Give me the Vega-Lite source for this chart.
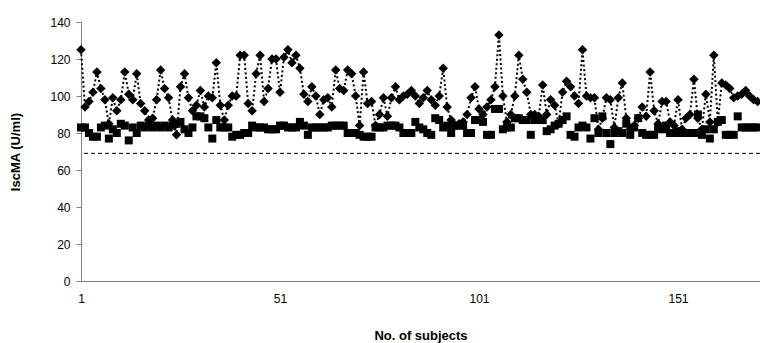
{
  "$schema": "https://vega.github.io/schema/vega-lite/v6.json",
  "width": 679,
  "height": 259,
  "autosize": "none",
  "padding": {"left": 81, "top": 22, "right": 0, "bottom": 62},
  "background": "white",
  "config": {
    "view": {"stroke": null},
    "font": "Liberation Sans",
    "axis": {"labelFont": "Liberation Sans", "titleFont": "Liberation Sans", "labelColor": "black", "titleColor": "black", "grid": false, "labelOverlap": false},
    "axisX": {"titleFontSize": 13, "titleFontWeight": "bold", "titlePadding": 25, "labelFontSize": 12, "labelPadding": 12, "ticks": false, "domainColor": "#808080", "labelFlush": false},
    "axisY": {"titleFontSize": 13, "titleFontWeight": "bold", "titlePadding": 27, "labelFontSize": 12, "labelPadding": 6, "tickSize": 5, "tickColor": "#808080", "domainColor": "#808080"}
  },
  "datasets": {
    "d": [
      {"subject":1,"diamond":125,"square":83},{"subject":2,"diamond":94,"square":83},{"subject":3,"diamond":97,"square":80},{"subject":4,"diamond":102,"square":78},{"subject":5,"diamond":113,"square":78},
      {"subject":6,"diamond":104,"square":83},{"subject":7,"diamond":98,"square":84},{"subject":8,"diamond":85,"square":77},{"subject":9,"diamond":99,"square":82},{"subject":10,"diamond":92,"square":80},
      {"subject":11,"diamond":98,"square":85},{"subject":12,"diamond":113,"square":84},{"subject":13,"diamond":101,"square":76},{"subject":14,"diamond":98,"square":83},{"subject":15,"diamond":112,"square":80},
      {"subject":16,"diamond":96,"square":84},{"subject":17,"diamond":92,"square":83},{"subject":18,"diamond":87,"square":84},{"subject":19,"diamond":88,"square":83},{"subject":20,"diamond":98,"square":84},
      {"subject":21,"diamond":114,"square":83},{"subject":22,"diamond":104,"square":84},{"subject":23,"diamond":99,"square":83},{"subject":24,"diamond":87,"square":84},{"subject":25,"diamond":79,"square":85},
      {"subject":26,"diamond":105,"square":86},{"subject":27,"diamond":112,"square":82},{"subject":28,"diamond":99,"square":80},{"subject":29,"diamond":92,"square":83},{"subject":30,"diamond":95,"square":89},
      {"subject":31,"diamond":103,"square":89},{"subject":32,"diamond":94,"square":88},{"subject":33,"diamond":100,"square":83},{"subject":34,"diamond":99,"square":77},{"subject":35,"diamond":118,"square":87},
      {"subject":36,"diamond":95,"square":83},{"subject":37,"diamond":87,"square":83},{"subject":38,"diamond":95,"square":83},{"subject":39,"diamond":100,"square":78},{"subject":40,"diamond":100,"square":79},
      {"subject":41,"diamond":122,"square":79},{"subject":42,"diamond":122,"square":80},{"subject":43,"diamond":96,"square":80},{"subject":44,"diamond":92,"square":84},{"subject":45,"diamond":112,"square":83},
      {"subject":46,"diamond":122,"square":83},{"subject":47,"diamond":97,"square":83},{"subject":48,"diamond":104,"square":82},{"subject":49,"diamond":120,"square":82},{"subject":50,"diamond":120,"square":82},
      {"subject":51,"diamond":102,"square":84},{"subject":52,"diamond":121,"square":84},{"subject":53,"diamond":125,"square":83},{"subject":54,"diamond":118,"square":83},{"subject":55,"diamond":122,"square":83},
      {"subject":56,"diamond":115,"square":86},{"subject":57,"diamond":101,"square":84},{"subject":58,"diamond":97,"square":79},{"subject":59,"diamond":105,"square":83},{"subject":60,"diamond":100,"square":83},
      {"subject":61,"diamond":90,"square":83},{"subject":62,"diamond":98,"square":83},{"subject":63,"diamond":99,"square":83},{"subject":64,"diamond":94,"square":84},{"subject":65,"diamond":114,"square":84},
      {"subject":66,"diamond":104,"square":84},{"subject":67,"diamond":103,"square":84},{"subject":68,"diamond":114,"square":80},{"subject":69,"diamond":112,"square":80},{"subject":70,"diamond":100,"square":80},
      {"subject":71,"diamond":84,"square":79},{"subject":72,"diamond":113,"square":78},{"subject":73,"diamond":96,"square":78},{"subject":74,"diamond":97,"square":78},{"subject":75,"diamond":84,"square":83},
      {"subject":76,"diamond":90,"square":83},{"subject":77,"diamond":99,"square":83},{"subject":78,"diamond":89,"square":84},{"subject":79,"diamond":99,"square":84},{"subject":80,"diamond":105,"square":84},
      {"subject":81,"diamond":98,"square":83},{"subject":82,"diamond":100,"square":80},{"subject":83,"diamond":101,"square":80},{"subject":84,"diamond":103,"square":80},{"subject":85,"diamond":100,"square":86},
      {"subject":86,"diamond":96,"square":83},{"subject":87,"diamond":99,"square":82},{"subject":88,"diamond":103,"square":80},{"subject":89,"diamond":98,"square":79},{"subject":90,"diamond":95,"square":88},
      {"subject":91,"diamond":100,"square":87},{"subject":92,"diamond":115,"square":83},{"subject":93,"diamond":94,"square":84},{"subject":94,"diamond":87,"square":80},{"subject":95,"diamond":84,"square":84},
      {"subject":96,"diamond":85,"square":84},{"subject":97,"diamond":86,"square":84},{"subject":98,"diamond":90,"square":80},{"subject":99,"diamond":99,"square":80},{"subject":100,"diamond":105,"square":87},
      {"subject":101,"diamond":93,"square":87},{"subject":102,"diamond":90,"square":86},{"subject":103,"diamond":94,"square":79},{"subject":104,"diamond":98,"square":79},{"subject":105,"diamond":105,"square":93},
      {"subject":106,"diamond":133,"square":93},{"subject":107,"diamond":100,"square":82},{"subject":108,"diamond":86,"square":83},{"subject":109,"diamond":90,"square":83},{"subject":110,"diamond":100,"square":88},
      {"subject":111,"diamond":122,"square":88},{"subject":112,"diamond":109,"square":87},{"subject":113,"diamond":102,"square":87},{"subject":114,"diamond":90,"square":79},{"subject":115,"diamond":90,"square":87},
      {"subject":116,"diamond":89,"square":87},{"subject":117,"diamond":106,"square":87},{"subject":118,"diamond":90,"square":81},{"subject":119,"diamond":98,"square":82},{"subject":120,"diamond":95,"square":84},
      {"subject":121,"diamond":85,"square":85},{"subject":122,"diamond":102,"square":87},{"subject":123,"diamond":108,"square":89},{"subject":124,"diamond":105,"square":79},{"subject":125,"diamond":100,"square":78},
      {"subject":126,"diamond":96,"square":83},{"subject":127,"diamond":125,"square":84},{"subject":128,"diamond":100,"square":83},{"subject":129,"diamond":99,"square":77},{"subject":130,"diamond":99,"square":88},
      {"subject":131,"diamond":82,"square":80},{"subject":132,"diamond":88,"square":89},{"subject":133,"diamond":99,"square":80},{"subject":134,"diamond":98,"square":74},{"subject":135,"diamond":83,"square":80},
      {"subject":136,"diamond":99,"square":81},{"subject":137,"diamond":107,"square":80},{"subject":138,"diamond":88,"square":85},{"subject":139,"diamond":82,"square":79},{"subject":140,"diamond":84,"square":83},
      {"subject":141,"diamond":88,"square":88},{"subject":142,"diamond":94,"square":80},{"subject":143,"diamond":89,"square":79},{"subject":144,"diamond":113,"square":79},{"subject":145,"diamond":92,"square":79},
      {"subject":146,"diamond":85,"square":83},{"subject":147,"diamond":97,"square":82},{"subject":148,"diamond":97,"square":84},{"subject":149,"diamond":86,"square":80},{"subject":150,"diamond":84,"square":80},
      {"subject":151,"diamond":98,"square":81},{"subject":152,"diamond":82,"square":80},{"subject":153,"diamond":88,"square":80},{"subject":154,"diamond":90,"square":80},{"subject":155,"diamond":109,"square":80},
      {"subject":156,"diamond":88,"square":90},{"subject":157,"diamond":82,"square":79},{"subject":158,"diamond":101,"square":82},{"subject":159,"diamond":86,"square":77},{"subject":160,"diamond":122,"square":82},
      {"subject":161,"diamond":86,"square":86},{"subject":162,"diamond":107,"square":87},{"subject":163,"diamond":106,"square":79},{"subject":164,"diamond":104,"square":79},{"subject":165,"diamond":99,"square":79},
      {"subject":166,"diamond":100,"square":89},{"subject":167,"diamond":101,"square":83},{"subject":168,"diamond":103,"square":83},{"subject":169,"diamond":100,"square":83},{"subject":170,"diamond":98,"square":83},
      {"subject":171,"diamond":97,"square":83}
    ],
    "ref": [{"ref": 69}]
  },
  "layer": [
    {
      "data": {"name": "d"},
      "mark": {"type": "line", "color": "black", "strokeWidth": 2, "strokeDash": [2, 2.5]},
      "encoding": {
        "x": {"field": "subject", "type": "quantitative", "title": "No. of subjects", "scale": {"domain": [1, 171.6], "nice": false, "zero": false}, "axis": {"values": [1, 51, 101, 151]}},
        "y": {"field": "diamond", "type": "quantitative", "title": "IscMA (U/ml)", "scale": {"domain": [0, 140], "nice": false}, "axis": {"values": [0, 20, 40, 60, 80, 100, 120, 140]}}
      }
    },
    {
      "data": {"name": "d"},
      "mark": {"type": "point", "shape": "square", "filled": true, "color": "black", "opacity": 1, "size": 64},
      "encoding": {
        "x": {"field": "subject", "type": "quantitative", "title": "No. of subjects", "axis": {"values": [1, 51, 101, 151]}},
        "y": {"field": "square", "type": "quantitative", "title": "IscMA (U/ml)", "axis": {"values": [0, 20, 40, 60, 80, 100, 120, 140]}}
      }
    },
    {
      "data": {"name": "d"},
      "mark": {"type": "point", "shape": "diamond", "filled": true, "color": "black", "opacity": 1, "size": 90},
      "encoding": {
        "x": {"field": "subject", "type": "quantitative", "title": "No. of subjects", "axis": {"values": [1, 51, 101, 151]}},
        "y": {"field": "diamond", "type": "quantitative", "title": "IscMA (U/ml)", "axis": {"values": [0, 20, 40, 60, 80, 100, 120, 140]}}
      }
    },
    {
      "data": {"name": "ref"},
      "mark": {"type": "rule", "color": "black", "strokeWidth": 1, "strokeDash": [4, 3]},
      "encoding": {"y": {"field": "ref", "type": "quantitative", "title": "IscMA (U/ml)", "axis": {"values": [0, 20, 40, 60, 80, 100, 120, 140]}}}
    }
  ]
}
